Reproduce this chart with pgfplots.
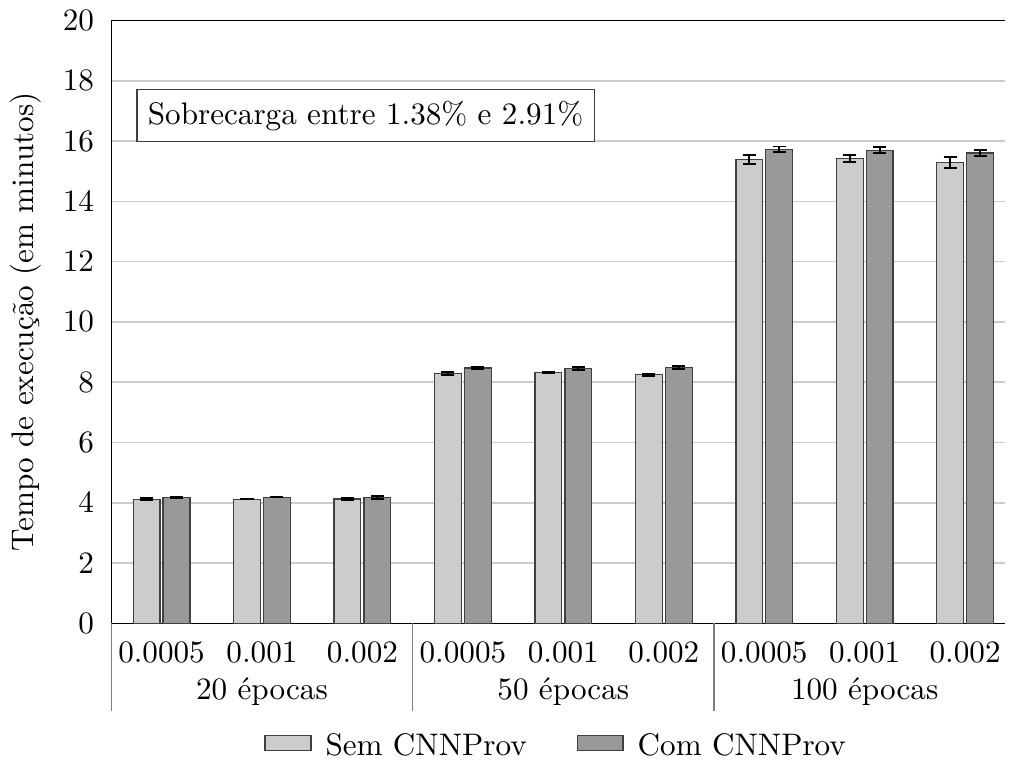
\documentclass[border=0pt]{standalone}
\usepackage{pgfplots}
\pgfplotsset{compat=1.18}

\definecolor{semfill}{RGB}{204,204,204}
\definecolor{comfill}{RGB}{153,153,153}
\definecolor{gridgray}{RGB}{204,204,204}

\begin{document}
\begin{tikzpicture}
\begin{axis}[
  scale only axis,
  width=287pt, height=193.6pt,
  ybar=1pt, bar width=8.6pt,
  ymin=0, ymax=20, ytick={0,2,...,20},
  xmin=-0.5, xmax=8.4,
  xtick={0,...,8},
  xticklabels={0.0005,{0.001\\20 épocas},0.002,0.0005,{0.001\\50 épocas},0.002,0.0005,{0.001\\100 épocas},0.002},
  xticklabel style={align=center, yshift=-2.2pt},
  yticklabel style={xshift=-2pt},
  major tick length=0pt,
  axis y line*=left, axis x line*=box,
  xtick pos=lower,
  ymajorgrids, grid style={gridgray, line width=0.5pt},
  ylabel={Tempo de execução (em minutos)},
  clip=false,
  legend style={at={(0.5,-0.205)}, anchor=center, draw=none, legend columns=-1,
    /tikz/every odd column/.append style={column sep=2.5pt},
    /tikz/every even column/.append style={column sep=14pt}},
  legend image code/.code={\draw[#1] (0cm,-0.04cm) rectangle (14.7pt,0.13cm);},
  error bars/error bar style={black, line width=0.6pt},
  error bars/error mark options={rotate=90, mark size=2.1pt, line width=0.6pt},
]
% Sem CNNProv
\addplot[fill=semfill, draw=black!75, error bars/.cd, y dir=both, y explicit]
  coordinates {
    (0,4.12) +- (0,0.03)
    (1,4.12) +- (0,0.01)
    (2,4.13) +- (0,0.03)
    (3,8.30) +- (0,0.05)
    (4,8.32) +- (0,0.02)
    (5,8.25) +- (0,0.03)
    (6,15.40) +- (0,0.15)
    (7,15.43) +- (0,0.12)
    (8,15.28) +- (0,0.18)
  };
% Com CNNProv
\addplot[fill=comfill, draw=black!75, error bars/.cd, y dir=both, y explicit]
  coordinates {
    (0,4.18) +- (0,0.03)
    (1,4.19) +- (0,0.01)
    (2,4.18) +- (0,0.04)
    (3,8.47) +- (0,0.04)
    (4,8.45) +- (0,0.05)
    (5,8.49) +- (0,0.04)
    (6,15.73) +- (0,0.09)
    (7,15.69) +- (0,0.10)
    (8,15.60) +- (0,0.09)
  };
\legend{Sem CNNProv, Com CNNProv}
% group separators below the axis
\foreach \g in {-0.5,2.5,5.5} {
  \edef\temp{\noexpand\draw[gray, line width=0.5pt] (axis cs:\g,0) -- ([yshift=-28pt]axis cs:\g,0);}
  \temp
}
\node[draw=black!75, anchor=north west, inner sep=3.5pt, fill=white]
  at (rel axis cs:0.028,0.886) {Sobrecarga entre 1.38\% e 2.91\%};
\end{axis}
\end{tikzpicture}
\end{document}
